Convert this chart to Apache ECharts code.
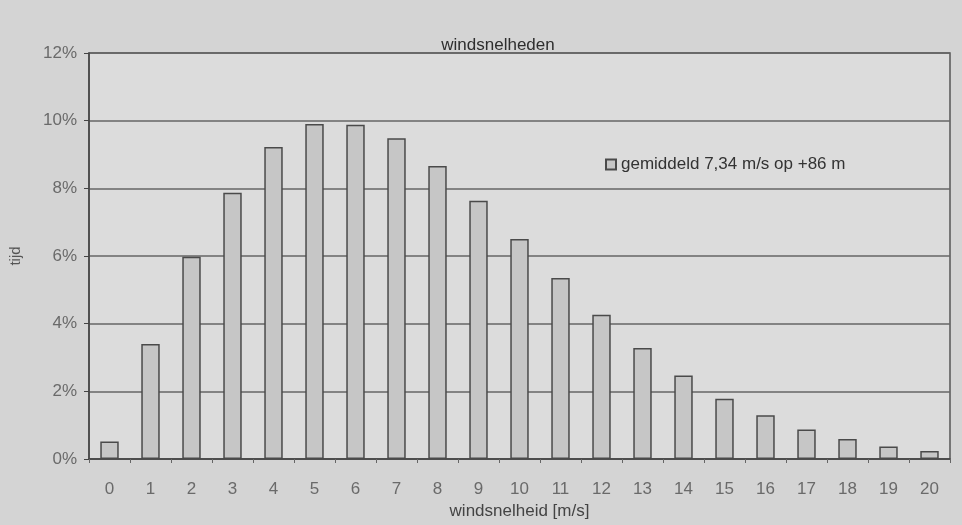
<!DOCTYPE html>
<html>
<head>
<meta charset="utf-8">
<title>windsnelheden</title>
<script src="https://cdn.jsdelivr.net/npm/echarts@6/dist/echarts.min.js"></script>
<style>
  html, body { margin: 0; padding: 0; background: #d4d4d4; }
  #chart { width: 962px; height: 525px; }
</style>
</head>
<body>
<div id="chart"></div>
<script>
// Wind speed classes [m/s]
const categories = ['0','1','2','3','4','5','6','7','8','9','10','11','12','13','14','15','16','17','18','19','20'];
// Share of time per wind speed class [%]
const timeShare = [0.52, 3.4, 5.98, 7.87, 9.22, 9.9, 9.88, 9.48, 8.66, 7.63, 6.5, 5.35, 4.26, 3.28, 2.47, 1.78, 1.29, 0.87, 0.59, 0.37, 0.24];
const yTicks = [0, 2, 4, 6, 8, 10, 12];
const seriesName = 'gemiddeld 7,34 m/s op +86 m';

const chart = echarts.init(document.getElementById('chart'), null, { renderer: 'canvas' });

const FONT = 'Liberation Sans, Arial, sans-serif';
const labelFont = { fontFamily: FONT, fontSize: 17, color: '#6a6a6a' };

chart.setOption({
  backgroundColor: '#d4d4d4',
  animation: false,
  title: {
    text: 'windsnelheden',
    left: 493,
    top: 32,
    textAlign: 'center',
    textStyle: { fontFamily: FONT, fontSize: 17, fontWeight: 'normal', color: '#2e2e2e' }
  },
  legend: {
    data: [seriesName],
    left: 600,
    top: 151,
    icon: 'rect',
    itemWidth: 10,
    itemHeight: 10,
    itemGap: 6,
    textStyle: { fontFamily: FONT, fontSize: 17, color: '#333' }
  },
  grid: {
    left: 88,
    right: 12,
    top: 53,
    bottom: 66,
    show: true,
    backgroundColor: '#dcdcdc',
    borderColor: '#555',
    borderWidth: 1.5
  },
  xAxis: {
    type: 'category',
    data: categories,
    name: 'windsnelheid [m/s]',
    nameLocation: 'middle',
    nameGap: 44,
    nameTextStyle: { fontFamily: FONT, fontSize: 17, color: '#444' },
    axisLine: { lineStyle: { color: '#444', width: 1.5 } },
    axisTick: { show: true, length: 4, lineStyle: { color: '#666' } },
    axisLabel: Object.assign({ margin: 22 }, labelFont)
  },
  yAxis: {
    type: 'value',
    min: 0,
    max: 12,
    interval: 2,
    name: 'tijd',
    nameLocation: 'middle',
    nameGap: 66,
    nameRotate: 90,
    nameTextStyle: { fontFamily: FONT, fontSize: 15, color: '#555' },
    axisLine: { show: true, lineStyle: { color: '#444', width: 1.5 } },
    axisTick: { show: true, length: 5, lineStyle: { color: '#444' } },
    axisLabel: Object.assign({ margin: 12, formatter: v => yTicks.includes(v) ? v + '%' : '' }, labelFont),
    splitLine: { show: true, lineStyle: { color: '#666', width: 1.5 } }
  },
  series: [{
    name: seriesName,
    type: 'bar',
    data: timeShare,
    barWidth: '45%',
    itemStyle: { color: '#c6c6c6', borderColor: '#4a4a4a', borderWidth: 1.5 }
  }]
});
</script>
</body>
</html>
